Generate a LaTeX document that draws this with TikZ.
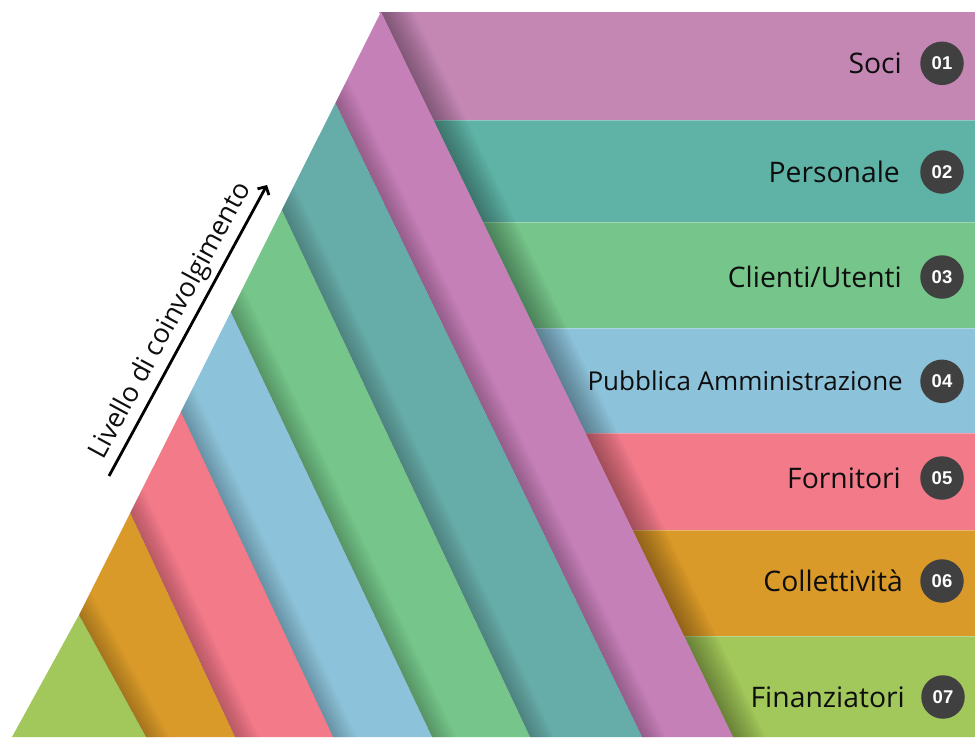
\documentclass[tikz,border=0pt]{standalone}
\usepackage{fontspec}
\setmainfont{Open Sans}
\newfontfamily\badgefont{Liberation Sans}
\usetikzlibrary{calc,arrows.meta}

\definecolor{cMag}{HTML}{C487B4}
\definecolor{cMagD}{HTML}{C580B8}
\definecolor{cTeal}{HTML}{5FB2A6}
\definecolor{cTealD}{HTML}{66ADA9}
\definecolor{cGreen}{HTML}{76C58A}
\definecolor{cBlue}{HTML}{8DC3DA}
\definecolor{cPink}{HTML}{F27A89}
\definecolor{cOrange}{HTML}{DA9A29}
\definecolor{cLime}{HTML}{A2C75A}
\definecolor{cBadge}{HTML}{404040}
\definecolor{cText}{HTML}{0E0E0E}

\begin{document}
\begin{tikzpicture}[x=1pt,y=-1pt,
  bandlabel/.style={anchor=base east, inner sep=0, text=cText, font=\fontsize{28.3}{32}\selectfont},
  badge/.style={circle, fill=cBadge, minimum size=43.5pt, inner sep=0, text=white, font=\badgefont\bfseries\fontsize{18.5}{18.5}\selectfont},
  sepline/.style={white, opacity=0.3, line width=1pt},
  arrowline/.style={line width=2.8pt, -{Straight Barb[length=6pt,width=13pt]}},
]
\useasboundingbox (0,0) rectangle (975,737);

% key points
\coordinate (A) at (381,12);
\coordinate (F) at (733,737);
\coordinate (P1) at (335.4,103);
\coordinate (P2) at (281.8,210);
\coordinate (P3) at (230.8,312);
\coordinate (P4) at (180.8,412);
\coordinate (P5) at (130.2,513);
\coordinate (P6) at (79,615);
\coordinate (L) at (12,737);
\coordinate (B1) at (642,737);
\coordinate (B2) at (530,737);
\coordinate (B3) at (432,737);
\coordinate (B4) at (333,737);
\coordinate (B5) at (235,737);
\coordinate (B6) at (146,737);

% horizontal bands (fold x = 381 + 0.48552 (y-12))
\fill[cMag]    (379,12)    -- (975,12)  -- (975,120) -- (431.4,120) -- cycle;
\fill[cTeal]   (431.4,120) -- (975,120) -- (975,222) -- (481,222)   -- cycle;
\fill[cGreen]  (481,222)   -- (975,222) -- (975,328) -- (532.4,328) -- cycle;
\fill[cBlue]   (532.4,328) -- (975,328) -- (975,433) -- (583.4,433) -- cycle;
\fill[cPink]   (583.4,433) -- (975,433) -- (975,530) -- (630.5,530) -- cycle;
\fill[cOrange] (630.5,530) -- (975,530) -- (975,636) -- (682,636)   -- cycle;
\fill[cLime]   (682,636)   -- (975,636) -- (975,737) -- (731,737)   -- cycle;

\foreach \yy/\xx in {120/433.4,222/483,328/534.4,433/585.4,530/632.5,636/684}
  \draw[sepline] (\xx,\yy) -- (975,\yy);

% shadow of the fold on the horizontal bands
\foreach \d in {2.5,5,...,32.5}
  \fill[black,opacity=0.026] (A) -- (F) -- ($(F)+(\d,0)$) -- ($(A)+(\d,0)$) -- cycle;

% diagonal bands
\fill[cMagD]   (A) -- (F) -- (B1) -- (P1) -- cycle;
\fill[cTealD]  (P1) -- (B1) -- (B2) -- (P2) -- cycle;
\fill[cGreen]  (P2) -- (B2) -- (B3) -- (P3) -- cycle;
\fill[cBlue]   (P3) -- (B3) -- (B4) -- (P4) -- cycle;
\fill[cPink]   (P4) -- (B4) -- (B5) -- (P5) -- cycle;
\fill[cOrange] (P5) -- (B5) -- (B6) -- (P6) -- cycle;
\fill[cLime]   (P6) -- (B6) -- (L) -- cycle;

% shadows cast by each band on its right neighbour
\begin{scope}
  \clip (A) -- (F) -- (L) -- (P6) -- cycle;
  \foreach \p/\b in {P1/B1,P2/B2,P3/B3,P4/B4,P5/B5,P6/B6}{
    \foreach \d in {2,4,...,24}
      \fill[black,opacity=0.02] ($(\p)!-0.4!(\b)$) -- (\b) -- ($(\b)+(\d,0)$) -- ($($(\p)!-0.4!(\b)$)+(\d,0)$) -- cycle;
  }
\end{scope}

% labels and badges
\node[badge] (n1) at (942,63.3) {01};
\node[bandlabel] (t1) at (902,73.5) {Soci};
\node[badge] (n2) at (942,172) {02};
\node[bandlabel] (t2) at (900,182) {Personale};
\node[badge] (n3) at (942,277) {03};
\node[bandlabel] (t3) at (902,287) {Clienti/Utenti};
\node[badge] (n4) at (942,381.3) {04};
\node[bandlabel, font=\fontsize{26}{30}\selectfont] (t4) at (903,390.6) {Pubblica Amministrazione};
\node[badge] (n5) at (942,478) {05};
\node[bandlabel] (t5) at (901,488) {Fornitori};
\node[badge] (n6) at (942,581) {06};
\node[bandlabel] (t6) at (903,591) {Collettività};
\node[badge] (n7) at (943,697) {07};
\node[bandlabel] (t7) at (905,707) {Finanziatori};

% arrow
\coordinate (a0) at (109,476);
\coordinate (a1) at (267,185);
\draw[arrowline] (a0) -- node[midway, sloped, above=4.5pt, inner sep=0, text=cText, font=\fontsize{27}{30}\selectfont] (tl) {Livello di coinvolgimento} (a1);
\end{tikzpicture}
\end{document}
